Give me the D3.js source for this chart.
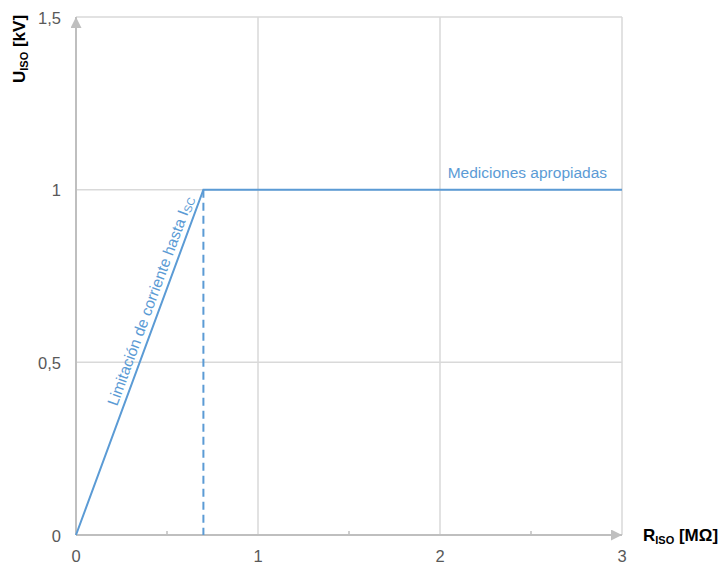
<!DOCTYPE html>
<html>
<head>
<meta charset="utf-8">
<script src="https://cdn.jsdelivr.net/npm/d3@7"></script>
<style>
  body { margin: 0; background: #fff; }
  text { font-family: "Liberation Sans", Arial, sans-serif; }
</style>
</head>
<body>
<div id="chart"></div>
<script>
// data
var curveX = [0, 0.7, 3];
var curveY = [0, 1, 1];
var kneeX = 0.7, kneeY = 1;
var xTicks = [0, 1, 2, 3];
var xTickLabels = ["0", "1", "2", "3"];
var xMinorTicks = [0.5, 1.5, 2.5];
var yTicks = [0, 0.5, 1, 1.5];
var yTickLabels = ["0", "0,5", "1", "1,5"];

var W = 723, H = 565;
var margin = {top: 17, right: 101, bottom: 30, left: 76},
    width = W - margin.left - margin.right,
    height = H - margin.top - margin.bottom;

var blue = "#5b9bd5", axisGrey = "#bfbfbf", gridGrey = "#d9d9d9", txt = "#595959";

var x = d3.scaleLinear().domain([0, 3]).range([0, width]);
var y = d3.scaleLinear().domain([0, 1.5]).range([height, 0]);

var svg = d3.select("#chart").append("svg")
    .attr("width", W).attr("height", H);
var g = svg.append("g")
    .attr("transform", "translate(" + margin.left + "," + margin.top + ")");

// grid
g.selectAll("line.vgrid").data(xTicks.slice(1)).enter().append("line")
    .attr("class", "vgrid")
    .attr("x1", d => x(d)).attr("x2", d => x(d))
    .attr("y1", y(0)).attr("y2", y(1.5))
    .style("stroke", gridGrey).style("stroke-width", 1.5);
g.selectAll("line.hgrid").data(yTicks.slice(1)).enter().append("line")
    .attr("class", "hgrid")
    .attr("x1", x(0)).attr("x2", x(3))
    .attr("y1", d => y(d)).attr("y2", d => y(d))
    .style("stroke", gridGrey).style("stroke-width", 1.5);

// arrow head
svg.append("defs").append("marker")
    .attr("id", "arr").attr("viewBox", "0 0 10 10")
    .attr("refX", 10).attr("refY", 5)
    .attr("markerWidth", 11).attr("markerHeight", 11)
    .attr("markerUnits", "userSpaceOnUse")
    .attr("orient", "auto")
    .append("path").attr("d", "M0,0 L10,5 L0,10 Z").style("fill", axisGrey);

// axes
g.append("line")
    .attr("x1", x(0)).attr("x2", x(3))
    .attr("y1", y(0)).attr("y2", y(0))
    .style("stroke", axisGrey).style("stroke-width", 2)
    .attr("marker-end", "url(#arr)");
g.append("line")
    .attr("x1", x(0)).attr("x2", x(0))
    .attr("y1", y(0)).attr("y2", y(1.5))
    .style("stroke", axisGrey).style("stroke-width", 2)
    .attr("marker-end", "url(#arr)");

// minor ticks on x axis
g.selectAll("line.minor").data(xMinorTicks).enter().append("line")
    .attr("x1", d => x(d)).attr("x2", d => x(d))
    .attr("y1", y(0)).attr("y2", y(0) - 4)
    .style("stroke", axisGrey).style("stroke-width", 1.5);

// tick labels
g.selectAll("text.xt").data(xTicks).enter().append("text")
    .attr("x", d => x(d)).attr("y", height + 27)
    .attr("text-anchor", "middle")
    .style("font-size", "16.5px").style("fill", txt)
    .text((d, i) => xTickLabels[i]);
g.selectAll("text.yt").data(yTicks).enter().append("text")
    .attr("x", -15).attr("y", d => y(d) + 6.5)
    .attr("text-anchor", "end")
    .style("font-size", "16.5px").style("fill", txt)
    .text((d, i) => yTickLabels[i]);

// axis titles
var xt = svg.append("text")
    .attr("x", 643).attr("y", 541)
    .style("font-size", "17px").style("font-weight", "bold").style("fill", "#000");
xt.append("tspan").text("R");
xt.append("tspan").attr("dy", 3).style("font-size", "11px").text("ISO");
xt.append("tspan").attr("dy", -3).text(" [MΩ]");

var yt = svg.append("text")
    .attr("transform", "translate(24.5,83) rotate(-90)")
    .style("font-size", "17px").style("font-weight", "bold").style("fill", "#000");
yt.append("tspan").text("U");
yt.append("tspan").attr("dy", 3).style("font-size", "11px").text("ISO");
yt.append("tspan").attr("dy", -3).text(" [kV]");

// dashed drop line
g.append("line")
    .attr("x1", x(kneeX)).attr("x2", x(kneeX))
    .attr("y1", y(kneeY)).attr("y2", y(0))
    .style("stroke", blue).style("stroke-width", 2)
    .style("stroke-dasharray", "8,5");

// curve
var pts = curveX.map((d, i) => [d, curveY[i]]);
g.append("path")
    .datum(pts)
    .attr("d", d3.line().x(d => x(d[0])).y(d => y(d[1])))
    .style("fill", "none").style("stroke", blue).style("stroke-width", 2);

// labels
g.append("text")
    .attr("x", x(2.918)).attr("y", y(kneeY) - 12)
    .attr("text-anchor", "end")
    .style("font-size", "15.5px").style("fill", blue)
    .text("Mediciones apropiadas");

var ang = Math.atan2(y(0) - y(kneeY), x(kneeX) - x(0)) * 180 / Math.PI;
var t0 = 0.377;
var lx = x(kneeX * t0), ly = y(kneeY * t0);
var lt = g.append("text")
    .attr("transform", "translate(" + (lx - 7) + "," + (ly + 2) + ") rotate(" + (-ang) + ")")
    .style("font-size", "15.5px").style("fill", blue);
lt.append("tspan").text("Limitación de corriente hasta I");
lt.append("tspan").attr("dy", 2).style("font-size", "11px").text("SC");
</script>
</body>
</html>
